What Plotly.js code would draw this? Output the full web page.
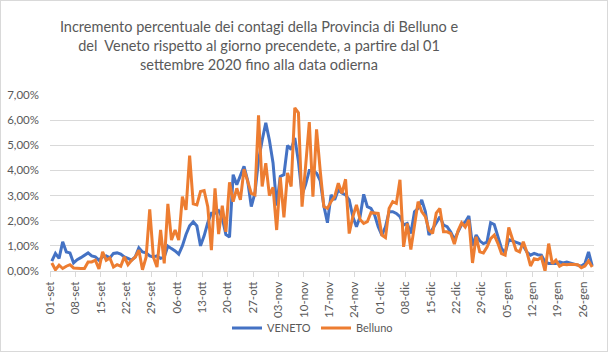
<!DOCTYPE html>
<html>
<head>
<meta charset="utf-8">
<script src="https://cdn.plot.ly/plotly-3.0.1.min.js"></script>
<style>
html,body{margin:0;padding:0;background:#fff;}
#chart{width:606px;height:350px;border:1px solid #d9d9d9;}
</style>
</head>
<body>
<div id="chart"></div>
<script>
// Data: daily % increment from 01 Sep 2020
const startDate = '2020-09-01';
const veneto = [
0.39,0.70,0.50,1.16,0.76,0.72,0.32,0.45,0.53,0.63,
0.72,0.60,0.56,0.43,0.56,0.60,0.52,0.70,0.72,0.67,
0.56,0.50,0.43,0.56,0.92,0.76,0.72,0.60,0.56,0.60,
0.50,0.55,0.99,0.89,0.80,0.67,1.00,1.45,1.80,1.96,
1.79,1.00,1.40,1.92,2.30,2.30,2.40,2.10,1.45,1.35,
3.83,3.43,3.80,4.16,3.60,2.56,3.10,4.40,5.20,5.89,
5.20,4.30,2.60,3.76,3.83,4.99,4.83,5.29,4.36,3.03,
3.45,4.00,4.00,3.89,3.60,2.60,1.92,3.03,2.83,3.23,
3.10,3.03,2.83,2.16,1.76,2.16,3.05,2.56,2.49,2.23,
1.76,1.43,1.76,2.36,2.36,2.29,2.16,1.83,1.89,1.49,
2.36,2.49,2.83,2.36,1.43,1.69,1.96,2.16,1.83,1.76,
1.55,1.25,1.56,1.85,1.95,2.19,1.00,1.43,1.20,1.09,
1.15,1.92,1.85,1.35,0.90,0.72,1.25,1.20,1.15,1.09,
1.00,0.75,0.63,0.70,0.65,0.63,0.36,0.30,0.30,0.30,
0.36,0.32,0.36,0.32,0.30,0.25,0.19,0.30,0.76,0.20
];
const belluno = [
0.32,0.05,0.23,0.10,0.19,0.25,0.12,0.10,0.10,0.10,
0.36,0.36,0.43,0.08,0.76,0.43,0.52,0.16,0.25,0.19,
0.56,0.25,0.43,0.55,0.83,0.05,0.55,2.45,0.56,0.16,
1.63,0.30,2.67,1.23,1.63,1.23,2.96,2.43,4.59,2.67,
2.63,3.16,3.20,2.56,0.83,3.29,1.47,2.60,1.56,3.53,
2.76,3.29,2.83,4.05,3.60,3.09,3.03,6.19,3.36,4.29,
3.00,3.33,1.63,3.72,2.13,3.90,3.36,6.49,6.29,2.56,
4.20,5.92,2.96,5.63,4.00,2.56,2.49,2.76,2.96,3.49,
3.09,3.65,1.49,2.16,2.63,2.05,1.89,1.96,2.32,2.29,
2.29,1.43,1.33,2.49,2.76,2.69,3.63,0.96,1.89,0.85,
1.76,2.76,2.36,2.16,1.63,1.49,2.30,2.49,1.56,1.56,
1.49,1.07,1.60,1.92,1.75,2.03,0.32,1.36,0.76,0.72,
0.95,1.29,1.43,1.10,0.69,0.63,1.73,1.23,0.83,0.76,
1.16,0.75,0.20,0.49,0.45,0.55,0.00,1.09,0.29,0.43,
0.19,0.27,0.25,0.27,0.25,0.25,0.13,0.20,0.40,0.16
];
const tickLabels = ['01-set','08-set','15-set','22-set','29-set','06-ott','13-ott','20-ott','27-ott','03-nov','10-nov','17-nov','24-nov','01-dic','08-dic','15-dic','22-dic','29-dic','05-gen','12-gen','19-gen','26-gen'];
const seriesNames = ['VENETO','Belluno'];

function addDays(iso, n){
  const d = new Date(iso + 'T00:00:00Z');
  d.setUTCDate(d.getUTCDate() + n);
  return d.toISOString().slice(0,10);
}
const dates = veneto.map((_, i) => addDays(startDate, i));
const tickVals = tickLabels.map((_, i) => addDays(startDate, i*7));
const endDate = addDays(startDate, veneto.length);

const font = 'Lato, "Open Sans", sans-serif';
const grey = '#595959';

const traces = [
  {x: dates, y: veneto, name: seriesNames[0], type: 'scatter', mode: 'lines',
   xperiod: 86400000, xperiodalignment: 'middle',
   line: {color: '#4472C4', width: 3}},
  {x: dates, y: belluno, name: seriesNames[1], type: 'scatter', mode: 'lines',
   xperiod: 86400000, xperiodalignment: 'middle',
   line: {color: '#ED7D31', width: 3}}
];

const layout = {
  width: 606, height: 350,
  margin: {l: 49, r: 13, t: 94, b: 80, pad: 0, autoexpand: false},
  paper_bgcolor: '#fff', plot_bgcolor: '#fff',
  separators: ',.',
  font: {family: font, size: 12, color: grey},
  title: {
    text: 'Incremento percentuale dei contagi della Provincia di Belluno e<br>del  Veneto rispetto al giorno precendete, a partire dal 01<br>settembre 2020 fino alla data odierna',
    font: {family: font, size: 14.5, color: grey},
    xref: 'container', x: 258/606, xanchor: 'center',
    yref: 'container', y: 1 - 31/350, yanchor: 'top'
  },
  xaxis: {
    type: 'date',
    range: [startDate, endDate],
    tickmode: 'array', tickvals: tickVals, ticktext: tickLabels,
    tickangle: -90, automargin: false,
    ticks: 'outside', ticklen: 5, tickcolor: '#d9d9d9',
    showline: true, linecolor: '#d9d9d9', linewidth: 1,
    showgrid: false, zeroline: false,
    tickfont: {family: font, size: 11.5, color: grey}
  },
  yaxis: {
    range: [0, 7], dtick: 1, tick0: 0,
    tickformat: '.2f', ticksuffix: '%', automargin: false,
    showgrid: true, gridcolor: '#d9d9d9', gridwidth: 1,
    zeroline: false, showline: false, ticks: '',
    ticklabelstandoff: 10,
    tickfont: {family: font, size: 11.5, color: grey}
  },
  showlegend: true,
  legend: {
    orientation: 'h', xref: 'container', x: 315/606, xanchor: 'center',
    yref: 'container', y: 1 - 327/350, yanchor: 'middle',
    bgcolor: 'rgba(0,0,0,0)',
    font: {family: font, size: 11, color: grey},
    itemwidth: 30, entrywidth: 44
  }
};

Plotly.newPlot('chart', traces, layout, {displayModeBar: false, staticPlot: true});
</script>
</body>
</html>
